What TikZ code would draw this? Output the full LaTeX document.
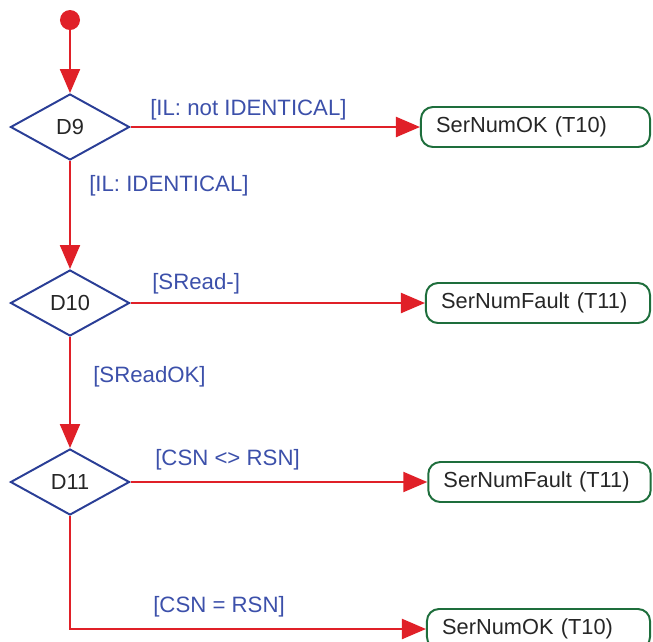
\documentclass[tikz,border=0pt]{standalone}
\usepackage{fontspec}
\setmainfont{Liberation Sans}
\usetikzlibrary{shapes.geometric,arrows.meta}
\definecolor{flowred}{RGB}{224,32,40}
\definecolor{decblue}{RGB}{42,62,150}
\definecolor{guardblue}{RGB}{60,80,170}
\definecolor{stategreen}{RGB}{30,110,60}
\tikzset{
    decision/.style={diamond,draw=decblue,line width=1.4pt,inner sep=0pt,minimum width=2.975cm,minimum height=1.65cm,font=\fontsize{15.5}{19}\selectfont,text=black!85},
    statebox/.style={draw=stategreen,rounded corners=0.3cm,line width=1.4pt,minimum height=1cm,inner xsep=0.38cm,align=left,font=\fontsize{15.5}{19}\selectfont,text=black!85},
    guard/.style={anchor=west,inner sep=0pt,text=guardblue,font=\fontsize{15.8}{19}\selectfont},
    flow/.style={draw=flowred,line width=1.5pt,-{Triangle[length=0.6cm,width=0.5cm]}}
}

\begin{document}
\begin{tikzpicture}[x=0.025cm,y=-0.025cm]
    \clip (0,0) rectangle (653,641);
    \node[circle,fill=flowred,inner sep=0pt,minimum size=0.5cm] (start) at (70,20) {};
    \node[decision] (d9) at (70,127) {D9};
    \node[decision] (d10) at (70,303) {D10};
    \node[decision] (d11) at (70,482) {D11};
    \node[statebox,text width=4.965cm] (ok1) at (535.5,127) {SerNumOK (T10)};
    \node[statebox,text width=4.84cm] (fault1) at (538,303) {SerNumFault (T11)};
    \node[statebox,text width=4.8cm] (fault2) at (539.5,482) {SerNumFault (T11)};
    \node[statebox,text width=4.815cm] (ok2) at (538.5,629) {SerNumOK (T10)};
    \node[guard] (g1) at (150,110) {[IL: not IDENTICAL]};
    \node[guard] (g2) at (89,186) {[IL: IDENTICAL]};
    \node[guard] (g3) at (152,284) {[SRead-]};
    \node[guard] (g4) at (93,377) {[SReadOK]};
    \node[guard] (g5) at (155,460) {[CSN <> RSN]};
    \node[guard] (g6) at (153,607) {[CSN = RSN]};
    \draw[flow] (start) -- (d9);
    \draw[flow] (d9) -- (ok1);
    \draw[flow] (d9) -- (d10);
    \draw[flow] (d10) -- (fault1);
    \draw[flow] (d10) -- (d11);
    \draw[flow] (d11) -- (fault2);
    \draw[flow] (d11) |- (ok2);
\end{tikzpicture}
\end{document}
